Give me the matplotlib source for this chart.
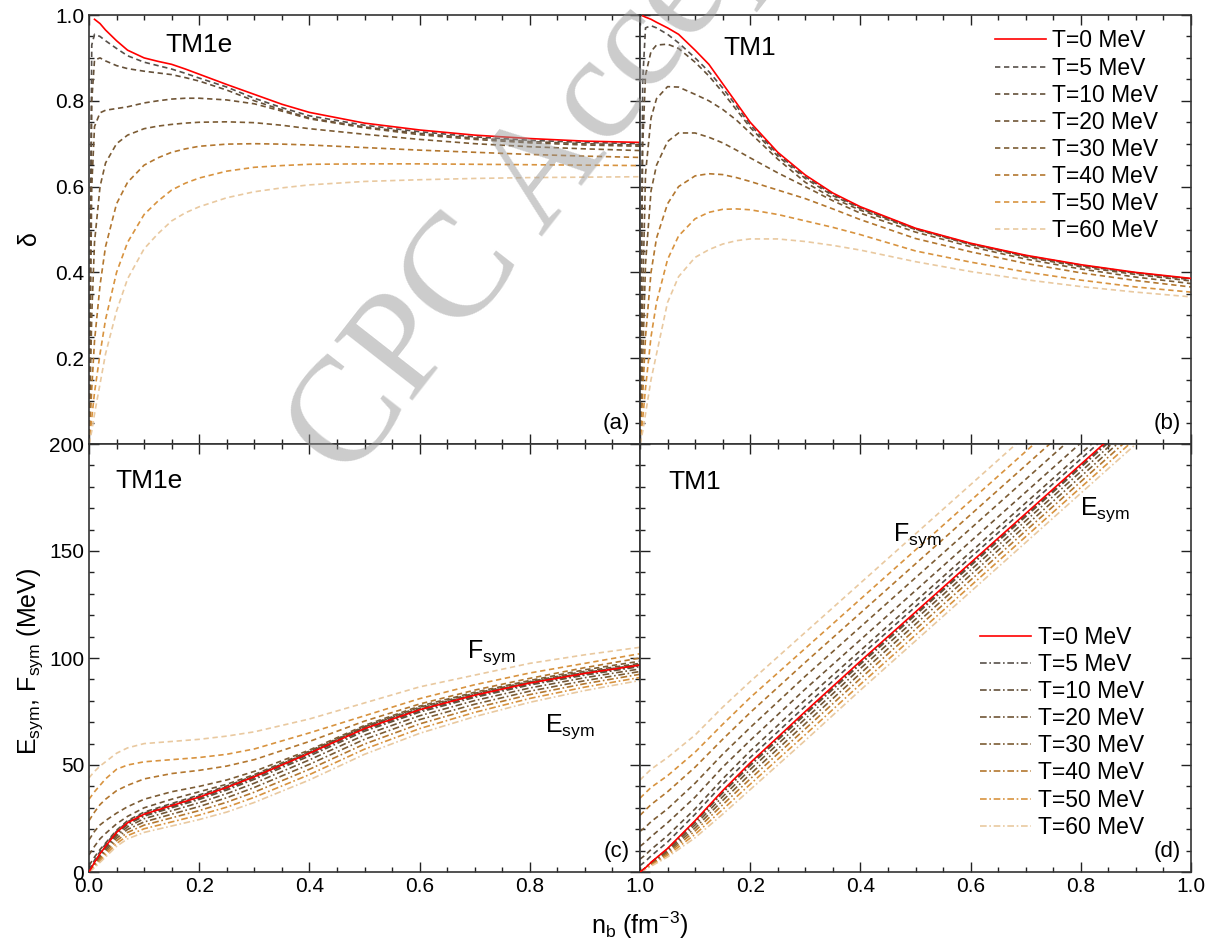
import matplotlib.pyplot as plt
from matplotlib.ticker import MultipleLocator

plt.rcParams['font.family'] = ['Liberation Sans', 'DejaVu Sans']
plt.rcParams['mathtext.default'] = 'regular'

nan = float('nan')

labels = ['T=0 MeV', 'T=5 MeV', 'T=10 MeV', 'T=20 MeV', 'T=30 MeV',
          'T=40 MeV', 'T=50 MeV', 'T=60 MeV']
colors = ['#ff0000', '#57504a', '#645039', '#705536', '#7c5c34',
          '#b3772f', '#d8933f', '#e9c9a0']

# ---- delta, top panels ----
nb_top = [0, 0.005, 0.01, 0.02, 0.03, 0.05, 0.07, 0.1, 0.125, 0.15, 0.175, 0.2,
          0.25, 0.3, 0.35, 0.4, 0.5, 0.6, 0.7, 0.8, 0.9, 1.0]

delta_tm1e = [
    [nan, nan, 0.99, 0.98, 0.965, 0.94, 0.918, 0.90, 0.892, 0.885, 0.874, 0.862, 0.838, 0.815, 0.792, 0.773, 0.748, 0.732, 0.72, 0.712, 0.706, 0.703],
    [0, 0.93, 0.955, 0.95, 0.94, 0.922, 0.905, 0.89, 0.882, 0.874, 0.864, 0.853, 0.832, 0.806, 0.784, 0.765, 0.743, 0.728, 0.716, 0.708, 0.703, 0.700],
    [0, 0.8, 0.895, 0.9, 0.893, 0.882, 0.875, 0.869, 0.865, 0.861, 0.854, 0.846, 0.825, 0.80, 0.779, 0.76, 0.739, 0.724, 0.713, 0.705, 0.70, 0.697],
    [0, 0.6, 0.74, 0.772, 0.778, 0.782, 0.786, 0.795, 0.80, 0.804, 0.806, 0.806, 0.802, 0.793, 0.776, 0.758, 0.737, 0.721, 0.71, 0.702, 0.697, 0.694],
    [0, 0.3, 0.47, 0.6, 0.655, 0.70, 0.72, 0.735, 0.741, 0.745, 0.748, 0.75, 0.751, 0.749, 0.743, 0.735, 0.722, 0.71, 0.70, 0.693, 0.688, 0.684],
    [0, 0.13, 0.24, 0.37, 0.46, 0.56, 0.61, 0.65, 0.667, 0.68, 0.688, 0.694, 0.699, 0.70, 0.699, 0.697, 0.691, 0.685, 0.68, 0.675, 0.671, 0.668],
    [0, 0.06, 0.12, 0.21, 0.29, 0.40, 0.47, 0.535, 0.566, 0.592, 0.608, 0.62, 0.636, 0.645, 0.649, 0.652, 0.653, 0.653, 0.652, 0.651, 0.65, 0.649],
    [0, 0.03, 0.07, 0.14, 0.21, 0.31, 0.385, 0.455, 0.49, 0.52, 0.539, 0.553, 0.574, 0.588, 0.597, 0.604, 0.612, 0.616, 0.619, 0.621, 0.622, 0.623],
]

delta_tm1 = [
    [nan, 0.998, 0.995, 0.99, 0.983, 0.97, 0.955, 0.918, 0.885, 0.84, 0.795, 0.75, 0.68, 0.627, 0.585, 0.553, 0.503, 0.468, 0.44, 0.418, 0.40, 0.386],
    [0, 0.85, 0.97, 0.975, 0.97, 0.955, 0.935, 0.9, 0.868, 0.83, 0.788, 0.744, 0.676, 0.623, 0.582, 0.551, 0.502, 0.467, 0.439, 0.417, 0.399, 0.385],
    [0, 0.7, 0.86, 0.915, 0.93, 0.932, 0.922, 0.89, 0.858, 0.82, 0.779, 0.738, 0.671, 0.619, 0.579, 0.549, 0.501, 0.466, 0.438, 0.416, 0.398, 0.383],
    [0, 0.35, 0.63, 0.76, 0.805, 0.833, 0.832, 0.815, 0.80, 0.78, 0.755, 0.725, 0.664, 0.61, 0.573, 0.545, 0.50, 0.465, 0.436, 0.413, 0.395, 0.38],
    [0, 0.2, 0.42, 0.59, 0.65, 0.705, 0.725, 0.725, 0.715, 0.702, 0.685, 0.667, 0.632, 0.60, 0.567, 0.538, 0.494, 0.46, 0.431, 0.408, 0.389, 0.374],
    [0, 0.12, 0.25, 0.40, 0.48, 0.56, 0.60, 0.625, 0.63, 0.628, 0.621, 0.612, 0.592, 0.572, 0.548, 0.523, 0.479, 0.448, 0.421, 0.399, 0.381, 0.366],
    [0, 0.06, 0.13, 0.25, 0.33, 0.43, 0.485, 0.525, 0.54, 0.547, 0.548, 0.546, 0.535, 0.52, 0.505, 0.488, 0.45, 0.424, 0.401, 0.382, 0.366, 0.354],
    [0, 0.03, 0.07, 0.15, 0.21, 0.33, 0.39, 0.435, 0.453, 0.466, 0.474, 0.478, 0.478, 0.472, 0.463, 0.452, 0.425, 0.402, 0.383, 0.367, 0.354, 0.343],
]

# ---- Esym / Fsym, TM1e ----
nb_c = [0, 0.01, 0.02, 0.03, 0.05, 0.07, 0.1, 0.15, 0.2, 0.25, 0.3, 0.4, 0.5,
        0.6, 0.7, 0.8, 0.9, 1.0]
esym0_tm1e = [0, 4.5, 8.5, 12, 18.5, 23, 27, 31, 35, 39.5, 44.5, 55.5, 67, 75.8, 82.6, 88.3, 92.8, 96.7]
fsym_tm1e = [
    [1, 5.5, 9.5, 13, 19, 23.5, 27.5, 31.5, 35.5, 39.8, 44.8, 55.8, 67.6, 76, 82.8, 88.5, 93, 96.8],
    [3, 7, 10.5, 13.5, 19.5, 24, 28, 32, 36, 40.2, 45, 56, 67.8, 76.5, 83, 88.7, 93.2, 97],
    [8, 12, 15.5, 18, 22.5, 26, 30, 34, 37.5, 41, 45.5, 56.5, 68, 77, 83.5, 89, 93.8, 97.5],
    [15, 19, 22, 24, 27.5, 30.5, 34, 37.5, 40, 43, 47, 57, 68.5, 77.5, 84, 89.5, 94.5, 98.5],
    [24, 28, 31.5, 34, 38, 40.5, 43.5, 46, 47.5, 49.5, 52.5, 61, 70.5, 78.5, 85, 90.5, 95.5, 100],
    [34, 37.5, 40.5, 43.5, 48, 50, 51.5, 52.5, 53.5, 55, 57.5, 65, 73, 81, 87.5, 93, 97.5, 102],
    [44, 47, 49.5, 51.5, 55.5, 58, 60, 61, 62, 63.5, 65.5, 71.5, 79, 86.5, 92, 97.5, 101.5, 105],
]
esym_tm1e = [
    [0, 4.4, 8.3, 11.8, 18.2, 22.7, 26.6, 30.5, 34.5, 39, 44, 55, 66.5, 75.3, 82.1, 87.9, 92.4, 96.4],
    [0, 4.2, 8.1, 11.5, 17.8, 22.2, 26.1, 30, 33.9, 38.3, 43.3, 54.2, 65.8, 74.7, 81.6, 87.4, 92, 96],
    [0, 3.9, 7.5, 10.8, 16.9, 21.1, 24.9, 28.6, 32.4, 36.6, 41.5, 52.4, 64, 73, 80.1, 86, 90.8, 94.9],
    [0, 3.5, 6.8, 9.9, 15.8, 19.9, 23.4, 27, 30.6, 34.7, 39.5, 50.3, 62, 71.2, 78.4, 84.5, 89.4, 93.7],
    [0, 3, 6.1, 9, 14.6, 18.5, 21.9, 25.3, 28.7, 32.6, 37.3, 48, 59.8, 69.2, 76.6, 82.9, 88, 92.4],
    [0, 2.5, 5.3, 8, 13.3, 17, 20.2, 23.4, 26.6, 30.3, 34.9, 45.5, 57.4, 67, 74.6, 81.1, 86.4, 90.9],
    [0, 2, 4.5, 7, 12, 15.5, 18.5, 21.5, 24.5, 28, 32.5, 43, 55, 64.8, 72.6, 79.3, 84.8, 89.5],
]

# ---- Esym / Fsym, TM1 ----
nb_d = [0, 0.01, 0.02, 0.05, 0.1, 0.15, 0.2, 0.3, 0.4, 0.5, 0.6, 0.7, 0.8, 0.9, 1.0]
esym0_tm1 = [0, 2, 4.5, 11, 24, 38, 51, 75, 98.5, 121.5, 144.5, 167.5, 190.5, 213.5, 236.5]
fsym_tm1 = [
    [3, 5, 7.5, 14, 27, 41, 53.5, 77.5, 101, 124, 147, 170, 193, 216, 239],
    [6, 8, 10.5, 17, 29.5, 43.5, 56.5, 80.5, 103.5, 126.5, 149.5, 172.5, 195.5, 218.5, 241.5],
    [12, 14, 16.5, 23, 35, 49, 61.5, 85.5, 108.5, 131.5, 154.5, 177.5, 200.5, 223.5, 246.5],
    [19, 21, 23.5, 29.5, 41.5, 55, 67.5, 91.5, 114.5, 137.5, 160.5, 183.5, 206.5, 229.5, 252.5],
    [26.5, 29, 31.5, 37.5, 49, 62, 74.5, 98, 121, 144, 167, 190, 213, 236, 259],
    [34.5, 37, 39.5, 45, 56, 69, 81.5, 104.5, 127.5, 150.5, 173.5, 196.5, 219.5, 242.5, 265.5],
    [43, 45.5, 48, 53.5, 64, 77, 89, 112, 135, 158, 181, 204, 227, 250, 273],
]
esym_tm1 = [
    [0, 2, 4.4, 10.8, 23.6, 37.5, 50.4, 74.3, 97.8, 120.8, 143.8, 166.8, 189.8, 212.8, 235.8],
    [0, 1.9, 4.3, 10.6, 23.2, 36.9, 49.7, 73.6, 97.1, 120.1, 143.1, 166.1, 189.1, 212.1, 235.1],
    [0, 1.8, 4, 10, 22, 35.2, 47.9, 71.6, 95.1, 118.1, 141.1, 164.1, 187.1, 210.1, 233.1],
    [0, 1.7, 3.7, 9.3, 20.6, 33.4, 45.7, 69.3, 92.8, 115.8, 138.8, 161.8, 184.8, 207.8, 230.8],
    [0, 1.5, 3.4, 8.6, 19.2, 31.4, 43.5, 66.9, 90.4, 113.4, 136.4, 159.4, 182.4, 205.4, 228.4],
    [0, 1.4, 3.1, 7.8, 17.6, 29.2, 41, 64.2, 87.7, 110.7, 133.7, 156.7, 179.7, 202.7, 225.7],
    [0, 1.2, 2.7, 7, 16, 27, 38.5, 61.5, 85, 108, 131, 154, 177, 200, 223],
]

DASH = (3.2, 2.2)
DASHDOT = (4, 1.6, 1, 1.6)
LW = 1.2

fig = plt.figure(figsize=(12.24, 9.44), dpi=100)
W, H = 551 / 1224, 429 / 944
x0, x1 = 89 / 1224, 640 / 1224
yb, ym = 1 - 872 / 944, 1 - 444 / 944
ax_a = fig.add_axes([x0, ym, W, H])
ax_b = fig.add_axes([x1, ym, W, H])
ax_c = fig.add_axes([x0, yb, W, ym - yb])
ax_d = fig.add_axes([x1, yb, W, ym - yb])

for ax, data in [(ax_a, delta_tm1e), (ax_b, delta_tm1)]:
    for i, y in enumerate(data):
        if i == 0:
            ax.plot(nb_top, y, color=colors[0], lw=LW, label=labels[0], zorder=5)
        else:
            ax.plot(nb_top, y, color=colors[i], lw=LW, dashes=DASH, label=labels[i])
    ax.set_ylim(0, 1.0)
    ax.set_yticks([0.2, 0.4, 0.6, 0.8, 1.0])
    ax.yaxis.set_minor_locator(MultipleLocator(0.05))

for ax, x, e0, fs, es in [(ax_c, nb_c, esym0_tm1e, fsym_tm1e, esym_tm1e),
                          (ax_d, nb_d, esym0_tm1, fsym_tm1, esym_tm1)]:
    ax.plot(x, e0, color=colors[0], lw=LW, label=labels[0], zorder=5)
    for i in range(7):
        ax.plot(x, fs[i], color=colors[i + 1], lw=LW, dashes=DASH)
        ax.plot(x, es[i], color=colors[i + 1], lw=LW, dashes=DASHDOT, label=labels[i + 1])
    ax.set_ylim(0, 200)
    ax.set_yticks([0, 50, 100, 150, 200])
    ax.yaxis.set_minor_locator(MultipleLocator(10))

for ax in [ax_a, ax_b, ax_c, ax_d]:
    ax.set_xlim(0, 1.0)
    ax.xaxis.set_minor_locator(MultipleLocator(0.05))
    ax.tick_params(which='both', direction='in', top=True, right=True,
                   labelsize=15, width=1, color='#222222')
    ax.tick_params(which='major', length=7)
    ax.tick_params(which='minor', length=3.5)
    for s in ax.spines.values():
        s.set_linewidth(1.2)
        s.set_color('#333333')

ax_c.set_xticks([0, 0.2, 0.4, 0.6, 0.8, 1.0])
ax_d.set_xticks([0.2, 0.4, 0.6, 0.8, 1.0])
ax_c.set_xticklabels(['0.0', '0.2', '0.4', '0.6', '0.8', '1.0'])
ax_d.set_xticklabels(['0.2', '0.4', '0.6', '0.8', '1.0'])
ax_a.tick_params(labelbottom=False)
ax_b.tick_params(labelbottom=False, labelleft=False)
ax_d.tick_params(labelleft=False)

ax_a.text(0.138, 0.914, 'TM1e', transform=ax_a.transAxes, fontsize=19, va='baseline')
ax_b.text(0.151, 0.907, 'TM1', transform=ax_b.transAxes, fontsize=19, va='baseline')
ax_c.text(0.047, 0.897, 'TM1e', transform=ax_c.transAxes, fontsize=19, va='baseline')
ax_d.text(0.051, 0.895, 'TM1', transform=ax_d.transAxes, fontsize=19, va='baseline')
for ax, t in [(ax_a, '(a)'), (ax_b, '(b)'), (ax_c, '(c)'), (ax_d, '(d)')]:
    ax.text(0.982, 0.035, t, transform=ax.transAxes, fontsize=16,
            ha='right', va='baseline')

ax_c.text(0.686, 100, r'F$_{sym}$', fontsize=18, va='baseline')
ax_c.text(0.828, 65.4, r'E$_{sym}$', fontsize=18, va='baseline')
ax_d.text(0.459, 155, r'F$_{sym}$', fontsize=18, va='baseline')
ax_d.text(0.799, 166.8, r'E$_{sym}$', fontsize=18, va='baseline')

ax_b.legend(loc='upper right', bbox_to_anchor=(0.962, 0.993), frameon=False,
            fontsize=16.5, handlelength=2.2, handletextpad=0.3,
            labelspacing=0.18, borderpad=0)
ax_d.legend(loc='lower right', bbox_to_anchor=(0.935, 0.051), frameon=False,
            fontsize=16.5, handlelength=2.2, handletextpad=0.3,
            labelspacing=0.18, borderpad=0)

fig.text(0.0245, 0.746, r'$\delta$', fontsize=18, rotation=90, ha='center', va='center')
fig.text(0.0245, 0.30, r'E$_{sym}$, F$_{sym}$ (MeV)', fontsize=18, rotation=90,
         ha='center', va='center')
fig.text(0.523, 0.02, r'n$_{b}$ (fm$^{-3}$)', fontsize=18, ha='center', va='center')

# watermark
fig.text(0.285, 0.488, 'CPC Accepted', rotation=52, rotation_mode='anchor',
         ha='left', va='baseline', fontsize=108, family='Liberation Serif',
         color='#999999', alpha=0.5, zorder=10)

fig.savefig('out.png', dpi=100)
